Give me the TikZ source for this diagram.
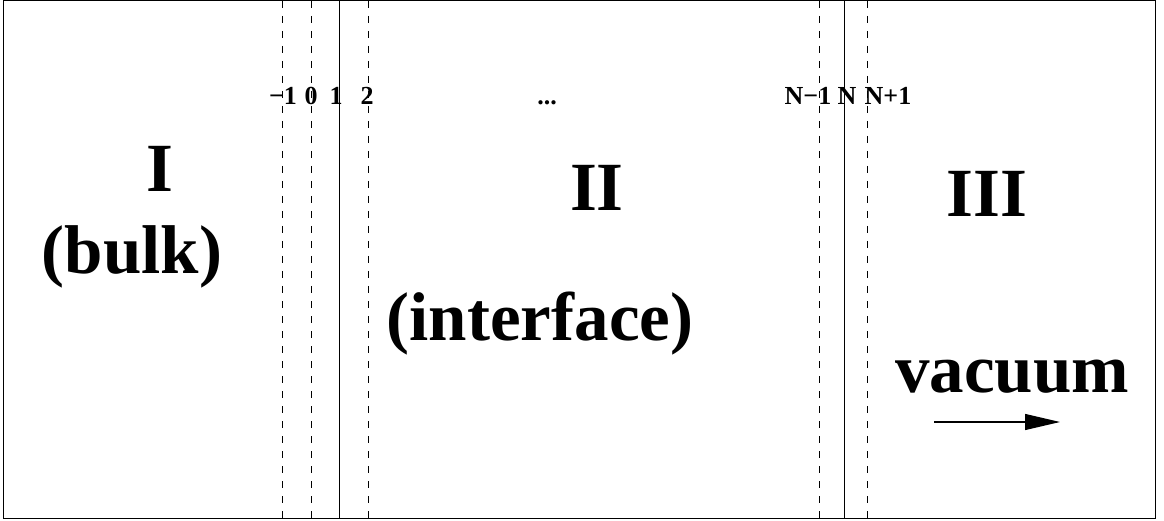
\documentclass[tikz,border=0pt]{standalone}
\usepackage{fontspec}
\setmainfont{Liberation Serif}
\usetikzlibrary{arrows.meta}
\begin{document}
\begin{tikzpicture}[x=1pt,y=-1pt,
  big/.style={inner sep=0pt,anchor=base,font=\fontsize{69}{69}\selectfont\bfseries},
  small/.style={inner sep=0pt,anchor=base,font=\fontsize{26}{26}\selectfont\bfseries},
  dline/.style={line width=0.9pt,dash pattern=on 7pt off 8pt},
  sline/.style={line width=1pt}]
\useasboundingbox (0,0) rectangle (1164,521);
\draw[line width=1pt] (3,1) rectangle (1155,518);
% layer lines
\foreach \n/\x in {m1/282,z0/311,t2/368,nm1/819,np1/867}{
  \coordinate (\n top) at (\x,1);
  \coordinate (\n bot) at (\x,518);
  \draw[dline] (\n top) -- (\n bot);
}
\foreach \n/\x in {o1/339,nn/844}{
  \coordinate (\n top) at (\x,1);
  \coordinate (\n bot) at (\x,518);
  \draw[sline] (\n top) -- (\n bot);
}
% small labels
\node[small] (lm1) at (283,105) {\textminus1};
\node[small] (l0) at (311,105) {0};
\node[small] (l1) at (336,105) {1};
\node[small] (l2) at (367,105) {2};
\node[small] (ldots) at (547,105) {...};
\node[small] (lNm1) at (808,105) {N\textminus1};
\node[small] (lN) at (847,105) {N};
\node[small] (lNp1) at (888,105) {N+1};
% big labels
\node[big] (I) at (160,192) {I};
\node[big] (bulk) at (132,273) {(bulk)};
\node[big] (II) at (597,211) {II};
\node[big] (interface) at (540,340) {(interface)};
\node[big] (III) at (987,217) {III};
\node[big] (vac) at (1012,392) {vacuum};
\coordinate (a0) at (934,422);
\coordinate (a1) at (1060,422);
\draw[line width=1.2pt,-{Triangle[length=35pt,width=16pt]}] (a0) -- (a1);
\end{tikzpicture}
\end{document}
